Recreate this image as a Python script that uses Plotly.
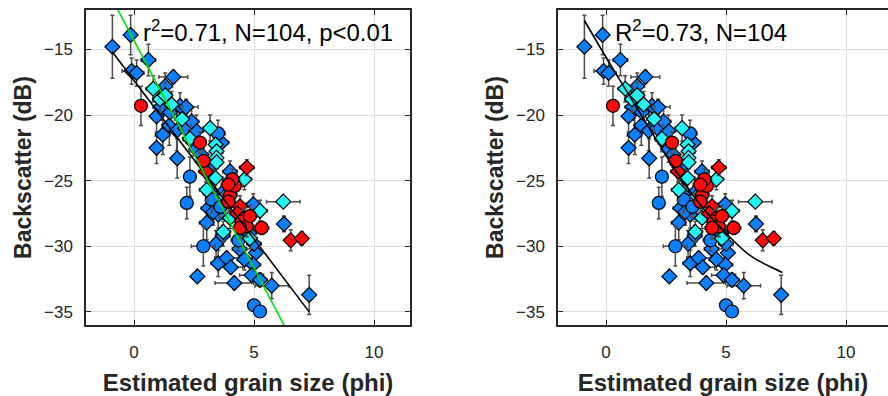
import plotly.graph_objects as go

# ---------------- data (phi, dB) ----------------
# blue diamonds
bd_x = [-0.9, -0.14, 0.6, -0.1, 0.11, 1.64, 1.1, 1.92, 2.17, 0.94, 1.47, 1.2, 0.94, 1.78, 2.13, 2.6,
        1.8, 2.47, 3.65, 2.6, 4.0, 3.24, 3.1, 4.97, 6.25, 3.03, 3.1, 3.51, 3.3, 3.42, 5.08, 3.51,
        3.86, 4.03, 4.97, 4.9, 5.25, 5.74, 4.18, 2.64, 7.3, 4.6, 4.8, 5.0, 3.9, 3.75, 2.8, 1.5,
        4.4, 4.6, 3.2, 2.4, 1.3, 3.7]
bd_y = [-14.8, -13.9, -15.8, -16.65, -16.8, -17.1, -19.4, -19.3, -19.4, -20.1, -20.8, -21.5, -22.5, -21.2, -21.0, -21.2,
        -23.3, -22.1, -22.1, -22.6, -24.3, -24.7, -24.0, -26.8, -28.3, -28.2, -27.1, -27.6, -27.4, -29.8, -30.5, -31.3,
        -30.9, -31.6, -31.4, -32.2, -32.56, -33.0, -32.8, -32.3, -33.7, -28.5, -29.0, -29.8, -26.2, -25.8, -23.0, -19.8,
        -30.2, -31.0, -26.0, -20.5, -17.8, -29.2]
bd_ex = [0.0, 0.0, 0.3, 0.4, 0.3, 0.6, 0.3, 0.4, 0.5, 0.2, 0.3, 0.3, 0.2, 0.3, 0.3, 0.3,
         0.2, 0.3, 0.3, 0.3, 0.3, 0.3, 0.3, 0.3, 0.2, 0.3, 0.3, 0.3, 0.3, 0.3, 0.2, 0.3,
         0.5, 0.5, 0.3, 0.5, 0.3, 0.7, 0.8, 0.0, 0.0, 0.3, 0.3, 0.3, 0.3, 0.3, 0.3, 0.3,
         0.3, 0.3, 0.3, 0.3, 0.3, 0.3]
bd_ey = [2.4, 1.5, 1.2, 1.0, 1.0, 0.5, 1.0, 1.0, 0.6, 1.5, 1.5, 1.5, 1.2, 1.5, 1.0, 1.2,
         1.5, 1.0, 0.8, 1.0, 0.8, 1.0, 1.0, 0.8, 0.6, 1.3, 1.0, 1.0, 1.0, 1.0, 1.0, 1.0,
         0.5, 0.5, 0.8, 0.5, 0.5, 1.0, 0.5, 0.0, 1.5, 0.8, 0.8, 0.8, 0.8, 0.8, 1.0, 1.0,
         0.8, 0.8, 0.8, 1.0, 1.0, 0.8]

# blue circles
bc_x = [3.5, 2.33, 2.2, 3.24, 2.89, 4.35, 5.0, 5.25, 3.6]
bc_y = [-21.4, -24.7, -26.7, -26.45, -30.0, -29.55, -34.5, -34.97, -27.0]
bc_ex = [0.3, 0.2, 0.0, 0.2, 0.5, 0.3, 0.0, 0.0, 0.3]
bc_ey = [1.0, 1.5, 1.2, 1.0, 1.5, 0.8, 0.0, 0.0, 0.8]

# cyan diamonds
cd_x = [0.8, 1.08, 1.57, 2.33, 3.17, 3.4, 3.44, 3.44, 3.44, 3.4, 4.6, 3.03, 4.0, 3.72, 5.25, 4.83,
        6.22, 1.3, 2.0, 3.8]
cd_y = [-18.0, -18.8, -19.2, -21.8, -21.0, -22.25, -22.76, -23.27, -23.6, -24.8, -24.9, -25.7, -27.85, -28.9, -27.3, -29.4,
        -26.6, -18.5, -20.3, -26.2]
cd_ex = [0.3, 0.3, 0.3, 0.3, 0.3, 0.2, 0.2, 0.2, 0.2, 0.3, 0.3, 0.3, 0.3, 0.3, 0.3, 0.3,
         0.7, 0.3, 0.3, 0.3]
cd_ey = [1.0, 1.0, 1.0, 1.0, 1.0, 0.5, 0.5, 0.5, 0.5, 0.8, 0.8, 0.8, 0.8, 0.8, 0.8, 0.8,
         0.3, 1.0, 1.0, 0.8]

# red diamonds
rd_x = [4.7, 4.42, 6.53, 6.99, 4.3, 3.0]
rd_y = [-24.0, -26.96, -29.55, -29.4, -27.5, -24.3]
rd_ex = [0.3, 0.3, 0.2, 0.2, 0.3, 0.3]
rd_ey = [0.6, 0.8, 0.8, 0.5, 0.8, 0.8]

# red circles
rc_x = [0.29, 2.75, 2.9, 4.14, 4.0, 3.93, 4.2, 4.62, 4.49, 4.7, 5.32, 4.83, 4.42, 4.1, 3.93]
rc_y = [-19.3, -22.1, -23.5, -25.4, -26.1, -26.6, -25.4, -27.85, -28.1, -28.5, -28.6, -27.7, -28.6, -24.9, -25.3]
rc_ex = [0.0, 0.2, 0.2, 0.3, 0.3, 0.3, 0.3, 0.3, 0.3, 0.3, 0.3, 0.3, 0.3, 0.3, 0.3]
rc_ey = [1.5, 0.8, 0.8, 0.8, 0.8, 0.8, 0.8, 0.8, 0.8, 0.8, 0.5, 0.8, 0.8, 0.8, 0.8]

# fits
lin_fit_x = [-0.9, 7.3]
lin_fit_y = [-15.2, -35.0]
green_fit_x = [-1.3, 6.45]
green_fit_y = [-9.8, -36.7]
curve_fit_x = [-0.9, 0.0, 1.0, 2.0, 3.0, 4.0, 5.0, 6.0, 7.0, 7.35]
curve_fit_y = [-12.8, -15.6, -18.6, -21.6, -24.5, -27.0, -29.0, -30.7, -31.7, -32.0]

x_ticks = [0, 5, 10]
y_ticks = [-35, -30, -25, -20, -15]

label_left = "r<sup>2</sup>=0.71, N=104, p&lt;0.01"
label_right = "R<sup>2</sup>=0.73, N=104"

# ---------------- styling ----------------
BLUE = "#0A80FF"
CYAN = "#22F5F5"
RED = "#FF0A0A"
ERR = "#4d4d4d"
AX = "#262626"
FONT = "Liberation Sans, Arial"

groups = [
    (bd_x, bd_y, bd_ex, bd_ey, "diamond", BLUE, 11.5),
    (bc_x, bc_y, bc_ex, bc_ey, "circle", BLUE, 13),
    (cd_x, cd_y, cd_ex, cd_ey, "diamond", CYAN, 11.5),
    (rd_x, rd_y, rd_ex, rd_ey, "diamond", RED, 11.5),
    (rc_x, rc_y, rc_ex, rc_ey, "circle", RED, 13),
]

fig = go.Figure()

for xa, ya in [("x", "y"), ("x2", "y2")]:
    for gx, gy, gex, gey, sym, col, sz in groups:
        fig.add_trace(go.Scatter(
            x=gx, y=gy, mode="markers", xaxis=xa, yaxis=ya,
            marker=dict(symbol=sym, size=sz, color=col, line=dict(color="black", width=1.2)),
            error_x=dict(type="data", array=gex, color=ERR, thickness=1.5, width=2),
            error_y=dict(type="data", array=gey, color=ERR, thickness=1.5, width=2),
            showlegend=False, hoverinfo="skip"))

fig.add_trace(go.Scatter(x=lin_fit_x, y=lin_fit_y, mode="lines", xaxis="x", yaxis="y",
                         line=dict(color="black", width=1.6), showlegend=False))
fig.add_trace(go.Scatter(x=green_fit_x, y=green_fit_y, mode="lines", xaxis="x", yaxis="y",
                         line=dict(color="#00E000", width=1.6), showlegend=False))
fig.add_trace(go.Scatter(x=curve_fit_x, y=curve_fit_y, mode="lines", xaxis="x2", yaxis="y2",
                         line=dict(color="black", width=1.6, shape="spline"), showlegend=False))

W, H = 888, 396
ydom = [1 - 325 / H, 1 - 10 / H]

xcommon = dict(range=[-2, 11.5], tickvals=x_ticks, showgrid=True, gridcolor="#dcdcdc", gridwidth=1,
               zeroline=False, showline=True, linecolor=AX, linewidth=1.5, mirror="ticks",
               ticks="inside", ticklen=5, tickcolor=AX, tickwidth=1, ticklabelstandoff=11,
               tickfont=dict(family=FONT, size=17, color=AX),
               title=dict(text="<b>Estimated grain size (phi)</b>", standoff=13,
                          font=dict(family=FONT, size=24, color=AX)))
ycommon = dict(range=[-36, -12], tickvals=y_ticks, showgrid=True, gridcolor="#dcdcdc", gridwidth=1,
               zeroline=False, showline=True, linecolor=AX, linewidth=1.5, mirror="ticks",
               ticks="inside", ticklen=5, tickcolor=AX, tickwidth=1, domain=ydom, ticklabelstandoff=8,
               tickfont=dict(family=FONT, size=17, color=AX),
               title=dict(text="<b>Backscatter (dB)</b>", standoff=6,
                          font=dict(family=FONT, size=23, color=AX)))

xa1 = dict(xcommon, domain=[86 / W, 410 / W], anchor="y")
xa2 = dict(xcommon, domain=[558 / W, 1.0], anchor="y2", range=[-2, 11.75])
ya1 = dict(ycommon, anchor="x")
ya2 = dict(ycommon, anchor="x2", mirror=False)

fig.update_layout(
    width=W, height=H, margin=dict(l=0, r=0, t=0, b=0),
    paper_bgcolor="white", plot_bgcolor="white",
    xaxis=xa1, yaxis=ya1, xaxis2=xa2, yaxis2=ya2,
    annotations=[
        dict(text=label_left, xref="x", yref="y", x=0.3, y=-13.6, xanchor="left", yanchor="middle",
             showarrow=False, font=dict(family=FONT, size=24, color="black")),
        dict(text=label_right, xref="x2", yref="y2", x=0.3, y=-13.6, xanchor="left", yanchor="middle",
             showarrow=False, font=dict(family=FONT, size=24, color="black")),
    ],
)

fig.write_html("out.html")
